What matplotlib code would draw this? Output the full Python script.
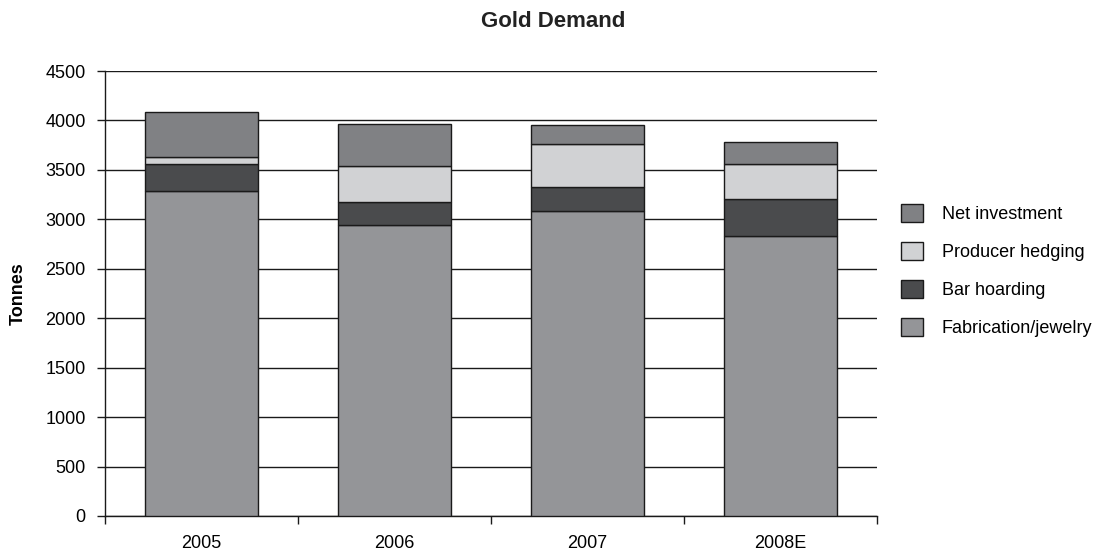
import matplotlib.pyplot as plt
import numpy as np

plt.rcParams['font.family'] = ['Liberation Sans', 'DejaVu Sans']

years = ["2005", "2006", "2007", "2008E"]
fabrication = [3290, 2940, 3080, 2830]
bar_hoarding = [265, 235, 245, 380]
producer_hedging = [80, 360, 435, 345]
net_investment = [450, 430, 195, 230]

series = [
    ("Fabrication/jewelry", fabrication, "#949598"),
    ("Bar hoarding", bar_hoarding, "#4a4b4d"),
    ("Producer hedging", producer_hedging, "#d1d2d4"),
    ("Net investment", net_investment, "#808184"),
]

fig = plt.figure(figsize=(11.07, 5.54), dpi=100)
ax = fig.add_axes([0.0949, 0.0686, 0.6973, 0.8032])

x = np.arange(len(years))
bottom = np.zeros(len(years))
handles = []
for name, vals, col in series:
    h = ax.bar(x, vals, 0.59, bottom=bottom, color=col, edgecolor="#1a1a1a",
               linewidth=1.0, label=name, zorder=3)
    handles.append(h)
    bottom += np.array(vals)

ax.set_xlim(-0.5, len(years) - 0.5)
ax.set_ylim(0, 4500)
ax.set_yticks(np.arange(0, 4501, 500))
ax.yaxis.grid(True, color="#1a1a1a", linewidth=1.0, zorder=0)
ax.set_axisbelow(True)

# category labels centred, ticks on the group boundaries
ax.set_xticks(np.arange(-0.5, len(years), 1.0))
ax.set_xticklabels([])
ax.set_xticks(x, minor=True)
ax.set_xticklabels(years, minor=True, fontsize=13)
ax.tick_params(axis="x", which="major", direction="out", length=6, width=1, color="#1a1a1a")
ax.tick_params(axis="x", which="minor", length=0, pad=14)
ax.tick_params(axis="y", direction="out", length=6, width=1, color="#1a1a1a",
               labelsize=13, pad=8)

for s in ["top", "right"]:
    ax.spines[s].set_visible(False)
for s in ["left", "bottom"]:
    ax.spines[s].set_color("#1a1a1a")
    ax.spines[s].set_linewidth(1.0)

ax.set_ylabel("Tonnes", fontsize=13, fontweight="bold", labelpad=13)
fig.text(0.5, 0.962, "Gold Demand", ha="center", va="center",
         fontsize=16, fontweight="bold", color="#222222")

ax.legend(handles[::-1], [s[0] for s in series][::-1], loc="center left",
          bbox_to_anchor=(1.010, 0.552), frameon=False, fontsize=13,
          handlelength=1.2, handleheight=1.17, labelspacing=1.05, handletextpad=1.05)

fig.savefig("out.png", dpi=100)
